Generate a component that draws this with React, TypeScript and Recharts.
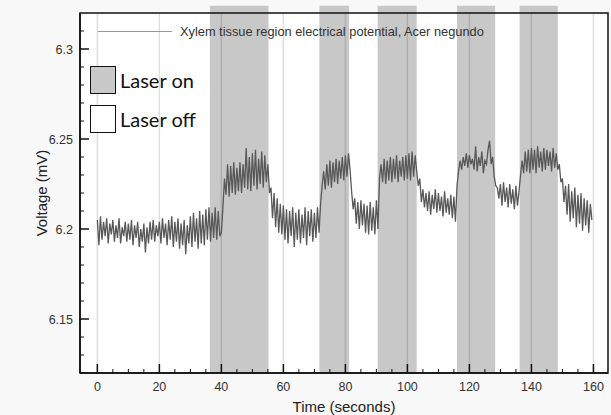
import { LineChart, Line, XAxis, YAxis, CartesianGrid, ReferenceArea, ReferenceLine } from "recharts";

// sampling interval of the trace, seconds
const sampleStep = 0.5;

// voltage (mV), one row = 10 s
const voltage = [
  6.205, 6.191, 6.207, 6.194, 6.204, 6.196, 6.206, 6.192, 6.203, 6.197, 6.205, 6.193, 6.202, 6.195, 6.206, 6.192, 6.201, 6.196, 6.204, 6.193,
  6.203, 6.194, 6.205, 6.191, 6.202, 6.195, 6.204, 6.190, 6.200, 6.193, 6.203, 6.187, 6.201, 6.192, 6.204, 6.194, 6.205, 6.193, 6.202, 6.196,
  6.204, 6.192, 6.206, 6.195, 6.203, 6.191, 6.205, 6.194, 6.207, 6.190, 6.204, 6.193, 6.206, 6.189, 6.203, 6.191, 6.205, 6.186, 6.202, 6.192,
  6.207, 6.190, 6.209, 6.193, 6.206, 6.189, 6.210, 6.192, 6.208, 6.191, 6.211, 6.194, 6.212, 6.193, 6.209, 6.195, 6.212, 6.194, 6.210, 6.196,
  6.198, 6.212, 6.228, 6.219, 6.236, 6.218, 6.235, 6.220, 6.237, 6.219, 6.234, 6.221, 6.237, 6.220, 6.236, 6.223, 6.245, 6.222, 6.240, 6.221,
  6.242, 6.224, 6.244, 6.222, 6.239, 6.225, 6.243, 6.223, 6.241, 6.226, 6.236, 6.220, 6.223, 6.206, 6.220, 6.201, 6.217, 6.198, 6.214, 6.197,
  6.213, 6.194, 6.211, 6.192, 6.210, 6.196, 6.212, 6.190, 6.209, 6.194, 6.211, 6.192, 6.208, 6.195, 6.212, 6.191, 6.210, 6.196, 6.211, 6.193,
  6.209, 6.195, 6.212, 6.198, 6.214, 6.224, 6.232, 6.222, 6.236, 6.224, 6.238, 6.223, 6.237, 6.226, 6.239, 6.225, 6.238, 6.228, 6.240, 6.227,
  6.241, 6.229, 6.242, 6.233, 6.221, 6.211, 6.217, 6.203, 6.215, 6.200, 6.216, 6.202, 6.214, 6.198, 6.213, 6.197, 6.215, 6.199, 6.212, 6.197,
  6.216, 6.200, 6.228, 6.236, 6.226, 6.239, 6.225, 6.238, 6.227, 6.240, 6.226, 6.239, 6.228, 6.241, 6.226, 6.238, 6.229, 6.240, 6.227, 6.241,
  6.228, 6.242, 6.227, 6.243, 6.229, 6.241, 6.232, 6.224, 6.228, 6.215, 6.222, 6.212, 6.220, 6.210, 6.221, 6.208, 6.219, 6.211, 6.222, 6.209,
  6.220, 6.210, 6.218, 6.207, 6.221, 6.209, 6.217, 6.208, 6.219, 6.206, 6.218, 6.204, 6.224, 6.232, 6.238, 6.233, 6.240, 6.235, 6.242, 6.234,
  6.241, 6.236, 6.239, 6.233, 6.246, 6.232, 6.240, 6.235, 6.243, 6.231, 6.238, 6.236, 6.244, 6.249, 6.236, 6.240, 6.229, 6.224, 6.223, 6.217,
  6.225, 6.213, 6.226, 6.215, 6.223, 6.212, 6.225, 6.214, 6.222, 6.211, 6.224, 6.213, 6.221, 6.230, 6.238, 6.231, 6.243, 6.232, 6.244, 6.231,
  6.245, 6.233, 6.244, 6.231, 6.246, 6.234, 6.243, 6.232, 6.245, 6.233, 6.244, 6.235, 6.243, 6.232, 6.245, 6.234, 6.242, 6.233, 6.236, 6.226,
  6.228, 6.215, 6.224, 6.208, 6.225, 6.204, 6.221, 6.206, 6.223, 6.201, 6.219, 6.203, 6.220, 6.199, 6.217, 6.202, 6.216, 6.198, 6.214, 6.205,
];

// laser-on intervals (seconds)
const laserOnStart = [36.3, 71.6, 90.4, 116.0, 136.2];
const laserOnEnd = [55.2, 81.2, 103.0, 128.3, 148.5];

const xTicks = [0, 5, 10, 15, 20, 25, 30, 35, 40, 45, 50, 55, 60, 65, 70, 75, 80, 85, 90, 95, 100, 105, 110, 115, 120, 125, 130, 135, 140, 145, 150, 155, 160];
const xMajor = [0, 20, 40, 60, 80, 100, 120, 140, 160];
const yTicks = [6.12, 6.13, 6.14, 6.15, 6.16, 6.17, 6.18, 6.19, 6.2, 6.21, 6.22, 6.23, 6.24, 6.25, 6.26, 6.27, 6.28, 6.29, 6.3, 6.31];
const yMajor = [6.15, 6.2, 6.25, 6.3];

const xDomain = [-5.6, 164.7];
const yDomain = [6.12, 6.32];

const data = voltage.map((v, i) => ({ t: i * sampleStep, v }));

const tickFont = { fontFamily: "'Liberation Sans', Arial, sans-serif", fontSize: 12.5, fill: "#333" };

const XTick = (props: any) => {
  const { x, y, payload } = props;
  const major = xMajor.includes(payload.value);
  return (
    <g>
      <line x1={x} x2={x} y1={y} y2={y - (major ? 9 : 4)} stroke="#111" strokeWidth={major ? 1.5 : 1} />
      {major && (
        <text x={x} y={y + 18} textAnchor="middle" {...tickFont}>
          {payload.value}
        </text>
      )}
    </g>
  );
};

const YTick = (props: any) => {
  const { x, y, payload } = props;
  const major = yMajor.some((m) => Math.abs(m - payload.value) < 1e-6);
  return (
    <g>
      <line x1={x} x2={x + (major ? 9 : 4)} y1={y} y2={y} stroke="#111" strokeWidth={major ? 1.5 : 1} />
      {major && (
        <text x={x - 7} y={y + 4.5} textAnchor="end" {...tickFont}>
          {String(payload.value)}
        </text>
      )}
    </g>
  );
};

export default function App() {
  const boxStyle = (fill: string) => ({
    position: "absolute" as const,
    width: 24,
    height: 26,
    background: fill,
    border: "1.5px solid #111",
  });
  const bigText = {
    position: "absolute" as const,
    fontFamily: "Lato, 'DejaVu Sans', sans-serif",
    fontSize: 20,
    color: "#111",
    lineHeight: "20px",
    whiteSpace: "nowrap" as const,
  };

  return (
    <div style={{ position: "absolute", left: 0, top: 0, width: 611, height: 415, background: "#f8f8f8" }}>
      <LineChart width={611} height={415} data={data} margin={{ top: 13, right: 3, bottom: 0, left: 0 }}>
        <CartesianGrid horizontal={false} vertical={false} fill="#fff" />
        {laserOnStart.map((s, i) => (
          <ReferenceArea
            key={`on-${i}`}
            x1={s}
            x2={laserOnEnd[i]}
            y1={6.12}
            y2={6.324}
            ifOverflow="visible"
            fill="#c8c8c8"
            fillOpacity={1}
            stroke="none"
          />
        ))}
        {xMajor.map((m) => (
          <ReferenceLine key={`g-${m}`} x={m} stroke="rgba(0,0,0,0.13)" strokeWidth={1.5} />
        ))}
        <XAxis
          dataKey="t"
          type="number"
          domain={xDomain}
          allowDataOverflow
          ticks={xTicks}
          interval={0}
          tickLine={false}
          tickSize={0}
          tickMargin={0}
          tick={<XTick />}
          height={42}
          axisLine={{ stroke: "#111", strokeWidth: 1.5 }}
          label={{
            value: "Time (seconds)",
            position: "insideBottom",
            offset: 3,
            style: { fontFamily: "'Liberation Sans', Arial, sans-serif", fontSize: 15, fill: "#222" },
          }}
        />
        <YAxis
          type="number"
          domain={yDomain}
          allowDataOverflow
          ticks={yTicks}
          interval={0}
          tickLine={false}
          tickSize={0}
          tickMargin={0}
          tick={<YTick />}
          width={80}
          axisLine={{ stroke: "#111", strokeWidth: 1.5 }}
          label={{
            value: "Voltage (mV)",
            angle: -90,
            position: "insideLeft",
            offset: 42,
            style: { textAnchor: "middle", fontFamily: "'Liberation Sans', Arial, sans-serif", fontSize: 15, fill: "#222" },
          }}
        />
        <Line
          type="linear"
          dataKey="v"
          stroke="#585858"
          strokeWidth={1.3}
          dot={false}
          isAnimationActive={false}
        />
        <ReferenceArea
          x1={xDomain[0]}
          x2={xDomain[1]}
          y1={yDomain[0]}
          y2={yDomain[1]}
          fill="none"
          stroke="#111"
          strokeWidth={1.5}
        />
      </LineChart>

      {/* series legend */}
      <div style={{ position: "absolute", left: 98, top: 31, width: 74, height: 1, background: "#999" }} />
      <div
        style={{
          position: "absolute",
          left: 180,
          top: 24,
          fontFamily: "'Liberation Sans', Arial, sans-serif",
          fontSize: 12.8,
          color: "#333",
          whiteSpace: "nowrap",
        }}
      >
        Xylem tissue region electrical potential, Acer negundo
      </div>

      {/* laser key */}
      <div style={{ ...boxStyle("#c8c8c8"), left: 90, top: 66 }} />
      <div style={{ ...bigText, left: 120, top: 70 }}>Laser on</div>
      <div style={{ ...boxStyle("#fff"), left: 90, top: 105 }} />
      <div style={{ ...bigText, left: 120, top: 109 }}>Laser off</div>
    </div>
  );
}
